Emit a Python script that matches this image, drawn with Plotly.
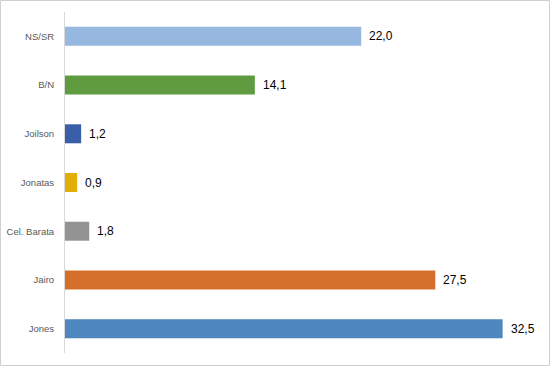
import plotly.graph_objects as go

categories = ["NS/SR", "B/N", "Joilson", "Jonatas", "Cel. Barata", "Jairo", "Jones"]
values = [22.0, 14.1, 1.2, 0.9, 1.8, 27.5, 32.5]
colors = ["#95B7E0", "#5F9B3F", "#3B5EA8", "#E5AD08", "#939393", "#D4702C", "#4D87BE"]
labels = [f"{v:.1f}".replace(".", ",") for v in values]

W, H = 550, 366
L, R, T, B = 65, 7, 12, 13
pw = W - L - R
ph = H - T - B

fig = go.Figure(go.Bar(
    x=values, y=categories, orientation="h",
    marker=dict(color=colors, line=dict(width=0)),
    width=0.39,
))

for c, v, t in zip(categories, values, labels):
    fig.add_annotation(x=v, y=c, text=t, showarrow=False, xanchor="left", xshift=6,
                       font=dict(family="Liberation Sans, Arial", size=12, color="#000000"))

fig.update_layout(
    width=W, height=H,
    margin=dict(l=L, r=R, t=T, b=B, autoexpand=False),
    paper_bgcolor="white", plot_bgcolor="white",
    showlegend=False,
    xaxis=dict(range=[0, 35.5], showgrid=False, zeroline=False, showticklabels=False,
               ticks="", automargin=False),
    yaxis=dict(autorange="reversed", showgrid=False, zeroline=False, automargin=False,
               showline=True, linecolor="#D9D9D9", linewidth=1,
               ticks="outside", ticklen=8, tickcolor="rgba(0,0,0,0)",
               tickfont=dict(family="Liberation Sans, Arial", size=9.5, color="#595959")),
    shapes=[dict(type="rect", xref="paper", yref="paper",
                 x0=(0.5 - L) / pw, x1=(W - 0.5 - L) / pw,
                 y0=-(B - 0.5) / ph, y1=(ph + T - 0.5) / ph,
                 line=dict(color="#D0D0D0", width=1), fillcolor="rgba(0,0,0,0)", layer="below")],
)

fig.write_html("out.html", config={"displayModeBar": False},
               post_script="document.body.style.margin='0';document.body.style.overflow='hidden';")
